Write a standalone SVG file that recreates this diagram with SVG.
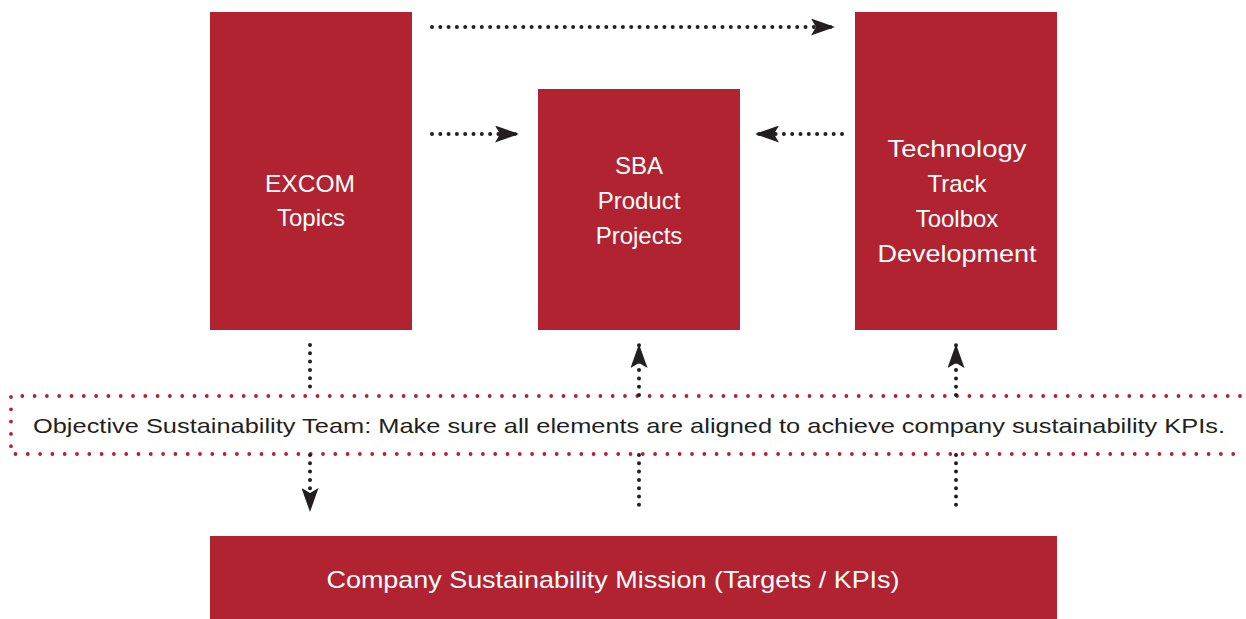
<svg xmlns="http://www.w3.org/2000/svg" width="1246" height="619" viewBox="0 0 1246 619">
<defs>
<style>
.box{fill:#B12331}
.bt{fill:#fff;font-family:"Liberation Sans",Arial,sans-serif;font-size:24px;text-anchor:middle}
.dot{fill:none;stroke:#231f20;stroke-width:4;stroke-linecap:round;stroke-dasharray:0 8.3}
.red{fill:none;stroke:#B5202F;stroke-width:3.8;stroke-linecap:round;stroke-dasharray:0 12.3}
.mt{fill:#231f20;font-family:"Liberation Sans",Arial,sans-serif;font-size:21px}
</style>
<marker id="ah" viewBox="0 -8.5 24 17" refX="24" refY="0" markerWidth="24" markerHeight="17" markerUnits="userSpaceOnUse" orient="auto">
<path d="M0,-8.5 L24,0 L0,8.5 L5,0 Z" fill="#231f20"/>
</marker>
</defs>
<rect width="1246" height="619" fill="#fff"/>
<g id="band">
<path class="red" d="M1240,396 L11,396 L11,454 L1240,454"/>
<text class="mt" x="33" y="433" textLength="1192" lengthAdjust="spacingAndGlyphs">Objective Sustainability Team: Make sure all elements are aligned to achieve company sustainability KPIs.</text>
</g>
<g id="excom">
<rect class="box" x="210" y="12" width="202" height="318"/>
<text class="bt" x="310" y="192" textLength="90" lengthAdjust="spacingAndGlyphs">EXCOM</text>
<text class="bt" x="311" y="226">Topics</text>
</g>
<g id="sba">
<rect class="box" x="538" y="89" width="202" height="241"/>
<text class="bt" x="639" y="174">SBA</text>
<text class="bt" x="639" y="209">Product</text>
<text class="bt" x="639" y="244">Projects</text>
</g>
<g id="tech">
<rect class="box" x="855" y="12" width="202" height="318"/>
<text class="bt" x="957" y="157" textLength="139" lengthAdjust="spacingAndGlyphs">Technology</text>
<text class="bt" x="957" y="192">Track</text>
<text class="bt" x="957" y="227">Toolbox</text>
<text class="bt" x="957" y="262" textLength="159" lengthAdjust="spacingAndGlyphs">Development</text>
</g>
<g id="mission">
<rect class="box" x="210" y="536" width="847" height="83"/>
<text class="bt" x="613" y="588" textLength="573" lengthAdjust="spacingAndGlyphs">Company Sustainability Mission (Targets / KPIs)</text>
</g>
<g id="connectors">
<line class="dot" x1="432" y1="27" x2="835" y2="27" marker-end="url(#ah)"/>
<line class="dot" x1="432" y1="134" x2="519" y2="134" marker-end="url(#ah)"/>
<line class="dot" x1="842" y1="134" x2="755" y2="134" marker-end="url(#ah)"/>
<line class="dot" x1="310" y1="345" x2="310" y2="393"/>
<line class="dot" x1="310" y1="455" x2="310" y2="512" marker-end="url(#ah)"/>
<line class="dot" x1="639" y1="395" x2="639" y2="344" marker-end="url(#ah)"/>
<line class="dot" x1="639" y1="455" x2="639" y2="512"/>
<line class="dot" x1="956" y1="395" x2="956" y2="344" marker-end="url(#ah)"/>
<line class="dot" x1="956" y1="455" x2="956" y2="512"/>
</g>
</svg>
